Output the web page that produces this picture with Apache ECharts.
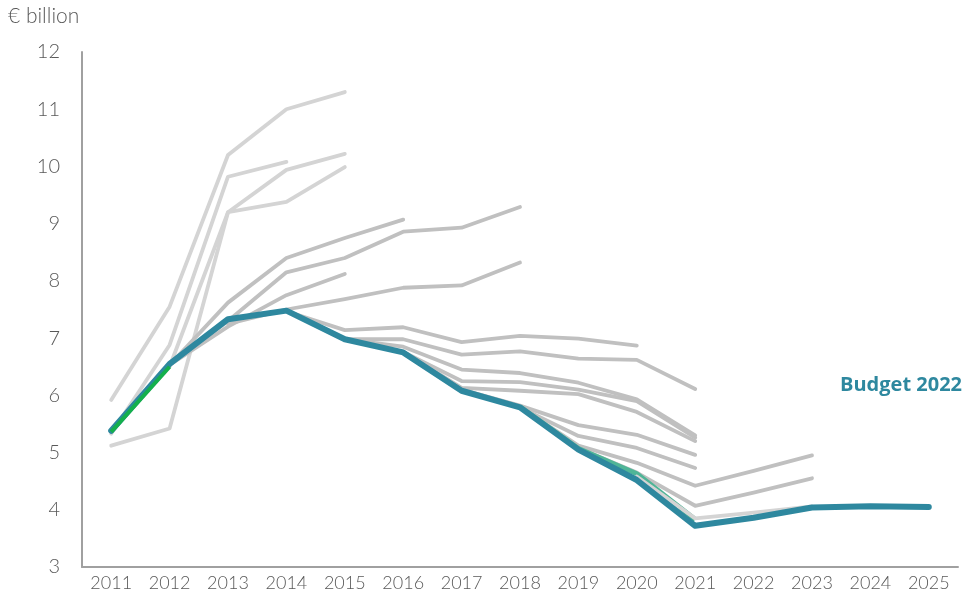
<!DOCTYPE html>
<html>
<head>
<meta charset="utf-8">
<script src="https://cdn.jsdelivr.net/npm/echarts@6/dist/echarts.min.js"></script>
<style>
  html, body { margin: 0; padding: 0; background: #ffffff; }
  #chart { width: 964px; height: 608px; }
</style>
</head>
<body>
<div id="chart"></div>
<script>
// Years on the horizontal axis
const years = ['2011','2012','2013','2014','2015','2016','2017','2018','2019','2020','2021','2022','2023','2024','2025'];
const firstYear = 2011;

// Earlier budget projections (each starts in the given year), € billion
const proj1 = { start: 2011, values: [5.92, 7.55, 10.20, 11.00, 11.30] };
const proj2 = { start: 2011, values: [5.33, 6.88, 9.82, 10.08] };
const proj3 = { start: 2011, values: [5.37, 6.50, 9.20, 9.94, 10.22] };
const proj4 = { start: 2011, values: [5.12, 5.42, 9.20, 9.38, 9.99] };
const proj5 = { start: 2012, values: [6.53, 7.62, 8.40, 8.75, 9.07] };
const proj6 = { start: 2012, values: [6.53, 7.30, 8.15, 8.40, 8.86, 8.93, 9.29] };
const proj7 = { start: 2012, values: [6.53, 7.20, 7.75, 8.12] };
const proj8 = { start: 2013, values: [7.25, 7.50, 7.68, 7.88, 7.92, 8.32] };
const proj9 = { start: 2014, values: [7.47, 7.14, 7.19, 6.93, 7.04, 6.99, 6.87] };
const proj10 = { start: 2015, values: [6.98, 6.98, 6.71, 6.77, 6.64, 6.62, 6.11] };
const proj11 = { start: 2015, values: [6.98, 6.85, 6.45, 6.39, 6.22, 5.93, 5.30] };
const proj12 = { start: 2016, values: [6.76, 6.25, 6.23, 6.10, 5.90, 5.26] };
const proj13 = { start: 2016, values: [6.76, 6.13, 6.08, 6.02, 5.71, 5.20] };
const proj14 = { start: 2017, values: [6.10, 5.82, 5.48, 5.31, 4.96] };
const proj15 = { start: 2017, values: [6.10, 5.79, 5.29, 5.08, 4.73] };
const proj16 = { start: 2018, values: [5.80, 5.12, 4.82, 4.42, 4.68, 4.95] };
const proj17 = { start: 2018, values: [5.80, 5.08, 4.65, 4.07, 4.30, 4.55] };
const proj18 = { start: 2020, values: [4.58, 3.85, 3.95, 4.06] };

// Budget 2021 path and earliest outturn segment
const budget2021 = { start: 2018, values: [5.80, 5.07, 4.63, 3.83] };
const outturnEarly = { start: 2011, values: [5.36, 6.50] };

// Budget 2022 projection
const budget2022 = { start: 2011, values: [5.38, 6.55, 7.33, 7.48, 6.98, 6.75, 6.08, 5.79, 5.05, 4.52, 3.72, 3.86, 4.04, 4.06, 4.05] };

// Axis ticks
const yMin = 3, yMax = 12, yStep = 1;

// Place a projection onto the full year axis, blank outside its span
function toSeriesData(p) {
  const out = years.map(() => null);
  p.values.forEach((v, i) => { out[p.start - firstYear + i] = v; });
  return out;
}

const lightGrey = '#d4d4d4';
const midGrey = '#c0c0c0';
const teal = '#2e889f';
const labelFont = 'Lato';

function greyLine(p, color) {
  return {
    type: 'line',
    data: toSeriesData(p),
    symbol: 'none',
    connectNulls: false,
    silent: true,
    lineStyle: { color: color, width: 3.8, cap: 'round', join: 'round' },
    z: 2
  };
}

const series = [
  greyLine(proj1, lightGrey),
  greyLine(proj2, lightGrey),
  greyLine(proj3, lightGrey),
  greyLine(proj4, lightGrey),
  greyLine(proj5, midGrey),
  greyLine(proj6, midGrey),
  greyLine(proj7, midGrey),
  greyLine(proj8, midGrey),
  greyLine(proj9, midGrey),
  greyLine(proj10, midGrey),
  greyLine(proj11, midGrey),
  greyLine(proj12, midGrey),
  greyLine(proj13, midGrey),
  greyLine(proj14, midGrey),
  greyLine(proj15, midGrey),
  greyLine(proj16, midGrey),
  greyLine(proj17, midGrey),
  {
    type: 'line', data: toSeriesData(budget2021), symbol: 'none', silent: true,
    lineStyle: { color: '#4fb597', width: 5, join: 'round' }, z: 3
  },
  Object.assign(greyLine(proj18, lightGrey), { z: 3 }),
  {
    name: 'Budget 2022',
    type: 'line', data: toSeriesData(budget2022), symbol: 'none', silent: true,
    lineStyle: { color: teal, width: 6, cap: 'round', join: 'round' }, z: 4
  },
  {
    type: 'line', data: toSeriesData(outturnEarly), symbol: 'none', silent: true,
    lineStyle: { color: '#14b04c', width: 4, join: 'round' }, z: 5
  }
];

const chart = echarts.init(document.getElementById('chart'), null, { renderer: 'canvas' });
chart.setOption({
  animation: false,
  backgroundColor: '#ffffff',
  grid: { left: 82, right: 6, top: 52, bottom: 41, containLabel: false },
  xAxis: {
    type: 'category',
    data: years,
    boundaryGap: true,
    axisLine: { show: true, lineStyle: { color: '#a0a0a0', width: 2 } },
    axisTick: { show: false },
    axisLabel: { color: '#595959', fontSize: 18, fontWeight: 300, fontFamily: labelFont, margin: 7, interval: 0 },
    splitLine: { show: false }
  },
  yAxis: {
    type: 'value',
    min: yMin, max: yMax, interval: yStep,
    axisLine: { show: true, lineStyle: { color: '#a0a0a0', width: 2 } },
    axisTick: { show: false },
    axisLabel: { color: '#595959', fontSize: 20, fontWeight: 300, fontFamily: labelFont, margin: 22 },
    splitLine: { show: false }
  },
  graphic: [
    {
      type: 'text', left: 8, top: 6,
      style: { text: '€ billion', fill: '#595959', font: '300 21px Lato' }
    },
    {
      type: 'text', right: 2, top: 375,
      style: { text: 'Budget 2022', fill: teal, font: 'bold 20px "Open Sans"' }
    }
  ],
  series: series
});
</script>
</body>
</html>
